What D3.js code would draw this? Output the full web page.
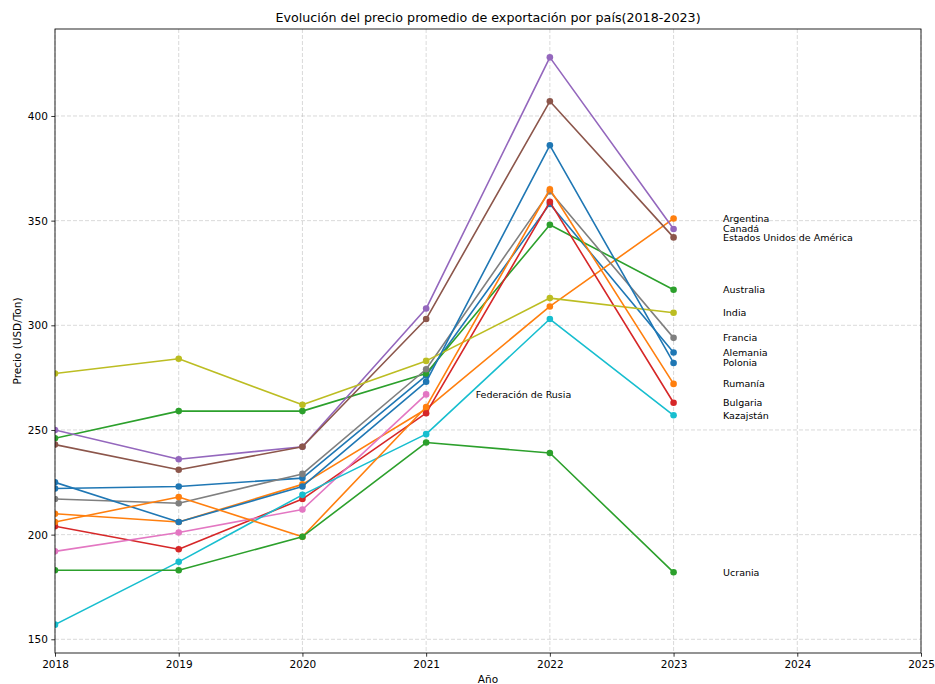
<!DOCTYPE html>
<html>
<head>
<meta charset="utf-8">
<script src="https://cdn.jsdelivr.net/npm/d3@7/dist/d3.min.js"></script>
<style>
  html, body { margin: 0; padding: 0; background: #fff; }
  svg { display: block; font-family: "DejaVu Sans", sans-serif; }
</style>
</head>
<body>
<svg id="chart" width="935" height="684"></svg>
<script>
// Average export price (USD/Ton) per country, 2018-2023
const years = [2018, 2019, 2020, 2021, 2022, 2023];
const countries = [
  "Alemania", "Argentina", "Australia", "Bulgaria", "Canadá",
  "Estados Unidos de América", "Federación de Rusia", "Francia",
  "India", "Kazajstán", "Polonia", "Rumanía", "Ucrania"
];
const alemania   = [222, 223, 227, 276, 358, 287];
const argentina  = [210, 206, 224, 260, 309, 351];
const australia  = [246, 259, 259, 277, 348, 317];
const bulgaria   = [204, 193, 217, 258, 359, 263];
const canada     = [250, 236, 242, 308, 428, 346];
const eeuu       = [243, 231, 242, 303, 407, 342];
const rusia      = [192, 201, 212, 267];
const francia    = [217, 215, 229, 279, 364, 294];
const india      = [277, 284, 262, 283, 313, 306];
const kazajstan  = [157, 187, 219, 248, 303, 257];
const polonia    = [225, 206, 223, 273, 386, 282];
const rumania    = [206, 218, 199, 261, 365, 272];
const ucrania    = [183, 183, 199, 244, 239, 182];
const seriesValues = [alemania, argentina, australia, bulgaria, canada, eeuu,
  rusia, francia, india, kazajstan, polonia, rumania, ucrania];

const xTicks = [2018, 2019, 2020, 2021, 2022, 2023, 2024, 2025];
const yTicks = [150, 200, 250, 300, 350, 400];
const palette = ["#1f77b4", "#ff7f0e", "#2ca02c", "#d62728", "#9467bd",
  "#8c564b", "#e377c2", "#7f7f7f", "#bcbd22", "#17becf"];

const titleText = "Evolución del precio promedio de exportación por país(2018-2023)";
const xLabel = "Año";
const yLabel = "Precio (USD/Ton)";

const margin = { left: 55, right: 14, top: 29, bottom: 31 };
const W = 935, H = 684;
const svg = d3.select("#chart");

// y domain: data range padded by 5% each side
const allVals = seriesValues.flat();
const vMin = d3.min(allVals), vMax = d3.max(allVals);
const pad = (vMax - vMin) * 0.05;

const x = d3.scaleLinear().domain([2018, 2025]).range([margin.left, W - margin.right]);
const y = d3.scaleLinear().domain([vMin - pad, vMax + pad]).range([H - margin.bottom, margin.top]);

const plotL = x.range()[0], plotR = x.range()[1];
const plotT = y.range()[1], plotB = y.range()[0];

// clip marks to the plotting area
svg.append("defs").append("clipPath").attr("id", "plot-clip")
  .append("rect").attr("x", plotL).attr("y", plotT)
  .attr("width", plotR - plotL).attr("height", plotB - plotT);

// grid
const grid = svg.append("g").attr("stroke", "#b0b0b0").attr("stroke-opacity", 0.6)
  .attr("stroke-width", 0.8).attr("stroke-dasharray", "4,2");
grid.selectAll("line.gx").data(xTicks).join("line")
  .attr("x1", d => x(d)).attr("x2", d => x(d))
  .attr("y1", plotT).attr("y2", plotB);
grid.selectAll("line.gy").data(yTicks).join("line")
  .attr("x1", plotL).attr("x2", plotR)
  .attr("y1", d => y(d)).attr("y2", d => y(d));

// series
const marks = svg.append("g").attr("clip-path", "url(#plot-clip)");
const line = d3.line().x((d, i) => x(years[i])).y(d => y(d));
seriesValues.forEach((vals, k) => {
  const c = palette[k % palette.length];
  const g = marks.append("g");
  g.append("path").attr("d", line(vals)).attr("fill", "none")
    .attr("stroke", c).attr("stroke-width", 1.6).attr("stroke-linejoin", "round");
  g.selectAll("circle").data(vals).join("circle")
    .attr("cx", (d, i) => x(years[i])).attr("cy", d => y(d))
    .attr("r", 3.3).attr("fill", c);
});

// end-of-line country labels
seriesValues.forEach((vals, k) => {
  const last = vals.length - 1;
  svg.append("text")
    .attr("x", x(years[last] + 0.4)).attr("y", y(vals[last]))
    .attr("dy", "0.35em").attr("font-size", 9.5).attr("fill", "#000")
    .text(countries[k]);
});

// axes
const xAxis = d3.axisBottom(x).tickValues(xTicks).tickFormat(d3.format("d"))
  .tickSize(3.7).tickPadding(3.5);
const yAxis = d3.axisLeft(y).tickValues(yTicks).tickFormat(d3.format("d"))
  .tickSize(3.7).tickPadding(3.5);
const gx = svg.append("g").attr("transform", `translate(0,${plotB})`).call(xAxis);
const gy = svg.append("g").attr("transform", `translate(${plotL},0)`).call(yAxis);
[gx, gy].forEach(g => {
  g.select(".domain").remove();
  g.selectAll("text").attr("font-size", 10.5).attr("fill", "#000")
    .attr("font-family", "DejaVu Sans, sans-serif");
  g.selectAll("line").attr("stroke", "#000").attr("stroke-width", 0.8);
});

// frame
svg.append("rect").attr("x", plotL).attr("y", plotT)
  .attr("width", plotR - plotL).attr("height", plotB - plotT)
  .attr("fill", "none").attr("stroke", "#000").attr("stroke-width", 0.85);

// titles
svg.append("text").attr("x", (plotL + plotR) / 2).attr("y", 22)
  .attr("text-anchor", "middle").attr("font-size", 12.7).text(titleText);
svg.append("text").attr("x", (plotL + plotR) / 2).attr("y", 683)
  .attr("text-anchor", "middle").attr("font-size", 10.5).text(xLabel);
svg.append("text")
  .attr("transform", `translate(21,${(plotT + plotB) / 2}) rotate(-90)`)
  .attr("text-anchor", "middle").attr("font-size", 10.5).text(yLabel);
</script>
</body>
</html>
